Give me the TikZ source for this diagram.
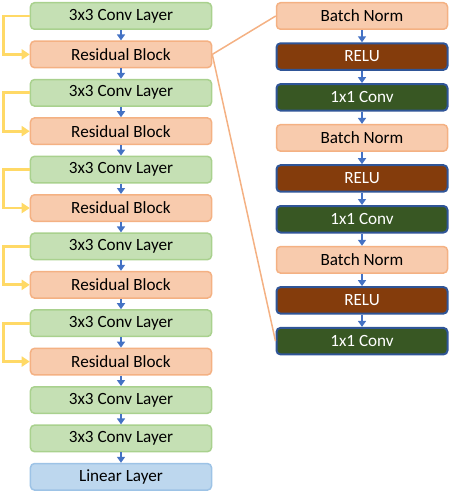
\documentclass[tikz,border=0pt]{standalone}
\usepackage{fontspec}
\setmainfont{Carlito}
\usepackage{tikz}
\usetikzlibrary{positioning, arrows.meta}

\definecolor{convfill}{HTML}{C5E0B4}
\definecolor{convdraw}{HTML}{A9D18E}
\definecolor{resfill}{HTML}{F8CBAD}
\definecolor{resdraw}{HTML}{F4B183}
\definecolor{linfill}{HTML}{BDD7EE}
\definecolor{lindraw}{HTML}{9DC3E6}
\definecolor{relufill}{HTML}{843C0C}
\definecolor{onefill}{HTML}{385723}
\definecolor{darkdraw}{HTML}{2F5597}
\definecolor{flowblue}{HTML}{4472C4}
\definecolor{skipyellow}{HTML}{FFD966}

\begin{document}
\begin{tikzpicture}[x = 1bp, y = -1bp,
    box/.style = {draw, rounded corners = 4bp, line width = 1.5bp, minimum height = 26.5bp, inner sep = 0pt, font = \fontsize{17.2}{19}\selectfont},
    conv/.style = {box, fill = convfill, draw = convdraw, minimum width = 181bp},
    res/.style = {box, fill = resfill, draw = resdraw, minimum width = 181bp},
    lin/.style = {box, fill = linfill, draw = lindraw, minimum width = 181bp},
    bnorm/.style = {box, fill = resfill, draw = resdraw, minimum width = 171bp},
    relu/.style = {box, fill = relufill, draw = darkdraw, line width = 2bp, text = white, minimum width = 171bp},
    one/.style = {box, fill = onefill, draw = darkdraw, line width = 2bp, text = white, minimum width = 171bp},
    flow/.style = {draw = flowblue, line width = 1.5bp, -{Triangle[width = 8bp, length = 6bp]}},
    skip/.style = {draw = skipyellow, line width = 2.8bp, -{Triangle[width = 10bp, length = 8bp]}},
    zoomline/.style = {draw = resdraw, line width = 1.5bp}]
    \useasboundingbox (0,0) rectangle (450,498);

    % main network
    \node[conv] (c1) at (121,16) {3x3 Conv Layer};
    \begin{scope}[node distance = 10.4bp]
        \node[res] (r1) [below = of c1] {Residual Block};
        \node[conv] (c2) [below = of r1] {3x3 Conv Layer};
        \node[res] (r2) [below = of c2] {Residual Block};
        \node[conv] (c3) [below = of r2] {3x3 Conv Layer};
        \node[res] (r3) [below = of c3] {Residual Block};
        \node[conv] (c4) [below = of r3] {3x3 Conv Layer};
        \node[res] (r4) [below = of c4] {Residual Block};
        \node[conv] (c5) [below = of r4] {3x3 Conv Layer};
        \node[res] (r5) [below = of c5] {Residual Block};
        \node[conv] (c6) [below = of r5] {3x3 Conv Layer};
        \node[conv] (c7) [below = of c6] {3x3 Conv Layer};
        \node[lin] (out) [below = of c7] {Linear Layer};
    \end{scope}

    % inside a residual block
    \node[bnorm] (bn1) at (362,16) {Batch Norm};
    \begin{scope}[node distance = 12.3bp]
        \node[relu] (relu1) [below = of bn1] {RELU};
        \node[one] (cv1) [below = of relu1] {1x1 Conv};
        \node[bnorm] (bn2) [below = of cv1] {Batch Norm};
        \node[relu] (relu2) [below = of bn2] {RELU};
        \node[one] (cv2) [below = of relu2] {1x1 Conv};
        \node[bnorm] (bn3) [below = of cv2] {Batch Norm};
        \node[relu] (relu3) [below = of bn3] {RELU};
        \node[one] (cv3) [below = of relu3] {1x1 Conv};
    \end{scope}

    \foreach \a/\b in {c1/r1, r1/c2, c2/r2, r2/c3, c3/r3, r3/c4, c4/r4, r4/c5, c5/r5, r5/c6, c6/c7, c7/out,
                       bn1/relu1, relu1/cv1, cv1/bn2, bn2/relu2, relu2/cv2, cv2/bn3, bn3/relu3, relu3/cv3}
        \draw[flow] (\a) -- (\b);

    \foreach \i in {1,...,5}
        \draw[skip] (c\i.west) -- ++(-26,0) |- (r\i.west);

    \draw[zoomline] (r1.east) -- (bn1.west);
    \draw[zoomline] (r1.east) -- (cv3.west);
\end{tikzpicture}
\end{document}
